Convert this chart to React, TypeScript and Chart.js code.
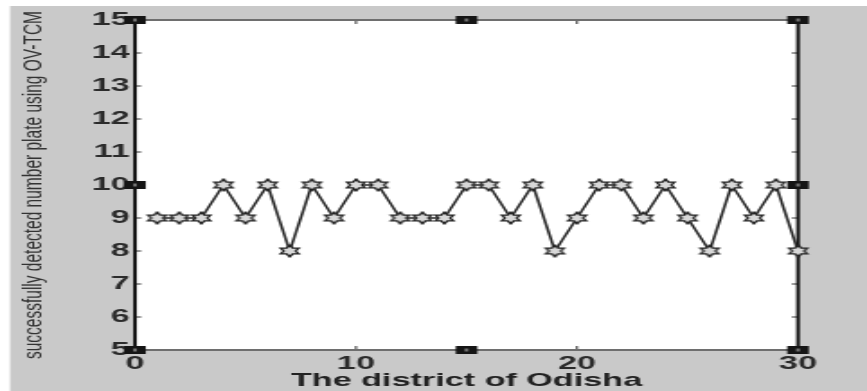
import React, { useEffect, useRef } from "react";
import { Chart, registerables } from "chart.js";

Chart.register(...registerables);

// ---- data ----
const districts = [1, 2, 3, 4, 5, 6, 7, 8, 9, 10, 11, 12, 13, 14, 15, 16, 17, 18, 19, 20, 21, 22, 23, 24, 25, 26, 27, 28, 29, 30];
const detected = [9, 9, 9, 10, 9, 10, 8, 10, 9, 10, 10, 9, 9, 9, 10, 10, 9, 10, 8, 9, 10, 10, 9, 10, 9, 8, 10, 9, 10, 8];
const xTickValues = [0, 10, 20, 30];
const yRange = [5, 15];
const xRange = [0, 30];
const xTitle = "The district of Odisha";
const yTitle = "successfully detected number plate using OV-TCM";

// internal canvas is drawn narrower and stretched horizontally, like the source picture
const OUT_W = 867;
const OUT_H = 391;
const W = 482;
const H = OUT_H;
const SX = OUT_W / W;

export default function App() {
  const ref = useRef<HTMLCanvasElement>(null);

  useEffect(() => {
    document.body.style.margin = "0";
    const canvas = ref.current;
    if (!canvas) return;

    // hexagram marker
    const marker = document.createElement("canvas");
    marker.width = 14;
    marker.height = 14;
    const m = marker.getContext("2d")!;
    const R = 5.8;
    const r = R / Math.sqrt(3);
    m.beginPath();
    for (let i = 0; i < 12; i++) {
      const ang = -Math.PI / 2 + (i * Math.PI) / 6;
      const rad = i % 2 === 0 ? R : r;
      const px = 7 + rad * Math.cos(ang);
      const py = 7 + rad * Math.sin(ang);
      if (i === 0) m.moveTo(px, py);
      else m.lineTo(px, py);
    }
    m.closePath();
    m.fillStyle = "#d8d8d8";
    m.fill();
    m.strokeStyle = "#222222";
    m.lineWidth = 1.4;
    m.stroke();

    const background = {
      id: "bg",
      beforeDraw(chart: any) {
        const ctx = chart.ctx;
        ctx.save();
        ctx.fillStyle = "#ffffff";
        ctx.fillRect(0, 0, chart.width, chart.height);
        ctx.fillStyle = "#c9c9c9";
        ctx.fillRect(5.6, 6, chart.width, chart.height);
        const a = chart.chartArea;
        ctx.fillStyle = "#ffffff";
        ctx.fillRect(a.left, a.top, a.right - a.left, a.bottom - a.top);
        ctx.restore();
      },
    };

    const frame = {
      id: "frame",
      beforeDatasetsDraw(chart: any) {
        const ctx = chart.ctx;
        const { left, right, top, bottom } = chart.chartArea;
        const xs = chart.scales.x;
        const ys = chart.scales.y;
        ctx.save();
        ctx.strokeStyle = "#333333";
        ctx.lineWidth = 1;
        ys.ticks.forEach((t: any) => {
          const py = ys.getPixelForValue(t.value);
          ctx.beginPath();
          ctx.moveTo(left, py);
          ctx.lineTo(left + 3.5, py);
          ctx.moveTo(right, py);
          ctx.lineTo(right - 3.5, py);
          ctx.stroke();
        });
        xs.ticks.forEach((t: any) => {
          const px = xs.getPixelForValue(t.value);
          ctx.beginPath();
          ctx.moveTo(px, bottom);
          ctx.lineTo(px, bottom - 4);
          ctx.moveTo(px, top);
          ctx.lineTo(px, top + 4);
          ctx.stroke();
        });
        ctx.strokeStyle = "#6e6e6e";
        ctx.lineWidth = 2;
        ctx.beginPath();
        ctx.moveTo(left, top);
        ctx.lineTo(right, top);
        ctx.moveTo(left, bottom);
        ctx.lineTo(right, bottom);
        ctx.stroke();
        ctx.strokeStyle = "#111111";
        ctx.lineWidth = 2;
        ctx.beginPath();
        ctx.moveTo(left, top);
        ctx.lineTo(left, bottom);
        ctx.moveTo(right, top);
        ctx.lineTo(right, bottom);
        ctx.stroke();
        ctx.restore();
      },
      afterDraw(chart: any) {
        const ctx = chart.ctx;
        const { left, right, top, bottom } = chart.chartArea;
        const cx = (left + right) / 2;
        const cy = (top + bottom) / 2;
        const pts = [
          [left, top], [cx, top], [right, top],
          [left, cy], [right, cy],
          [left, bottom], [cx, bottom], [right, bottom],
        ];
        ctx.save();
        pts.forEach(([px, py]) => {
          ctx.fillStyle = "#151515";
          ctx.fillRect(px - 6, py - 4, 12, 8);
          ctx.fillStyle = "#777777";
          ctx.fillRect(px - 1, py - 1.5, 2, 3);
        });
        ctx.restore();
      },
    };

    const tickFont = { family: "'Liberation Sans', Arial, sans-serif", size: 19, weight: "bold" as const };

    const chart = new Chart(canvas, {
      type: "line",
      data: {
        datasets: [
          {
            data: districts.map((d, i) => ({ x: d, y: detected[i] })),
            borderColor: "#2a2a2a",
            borderWidth: 1.6,
            pointStyle: marker as any,
            pointRadius: 6,
            clip: false as any,
            tension: 0,
          },
        ],
      },
      options: {
        responsive: false,
        animation: false,
        events: [],
        layout: { padding: { top: 20, right: W - 798 / SX, left: 0, bottom: 0 } },
        plugins: { legend: { display: false }, tooltip: { enabled: false } },
        scales: {
          x: {
            type: "linear",
            min: xRange[0],
            max: xRange[1],
            afterBuildTicks: (s: any) => {
              s.ticks = xTickValues.map((v) => ({ value: v }));
            },
            afterFit: (s: any) => {
              s.height = H - 350;
            },
            grid: { drawOnChartArea: false, drawTicks: false },
            border: { display: false },
            ticks: { padding: 2, color: "#2b2b2b", font: tickFont },
            title: {
              display: true,
              text: xTitle,
              color: "#222222",
              font: { family: "'Liberation Sans', Arial, sans-serif", size: 19, weight: "bold" },
              padding: { top: 0, bottom: -1 },
            },
          },
          y: {
            type: "linear",
            min: yRange[0],
            max: yRange[1],
            afterFit: (s: any) => {
              s.width = 135 / SX;
            },
            grid: { drawOnChartArea: false, drawTicks: false },
            border: { display: false },
            ticks: { stepSize: 1, padding: 3, color: "#2b2b2b", font: tickFont },
            title: {
              display: true,
              text: yTitle,
              color: "#333333",
              font: { family: "'Liberation Sans', Arial, sans-serif", size: 15.5 },
              padding: { top: 9.5, bottom: 0 },
            },
          },
        },
      },
      plugins: [background, frame],
    });

    return () => chart.destroy();
  }, []);

  return (
    <div style={{ position: "fixed", left: 0, top: 0, width: OUT_W, height: OUT_H }}>
      <canvas
        ref={ref}
        width={W}
        height={H}
        style={{ width: OUT_W + "px", height: OUT_H + "px", display: "block" }}
      />
    </div>
  );
}
